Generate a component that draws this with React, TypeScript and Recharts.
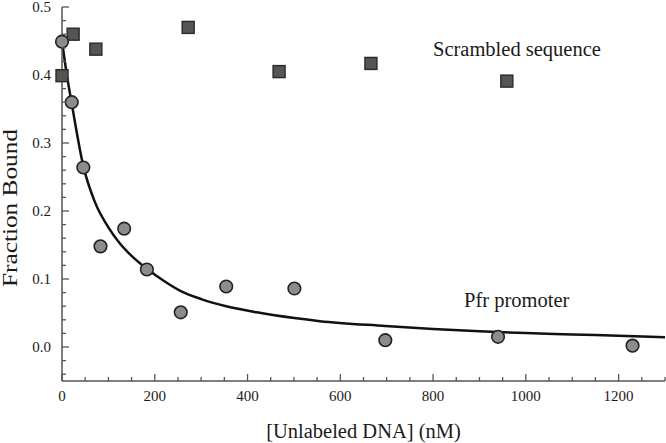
import React from 'react';
import { ComposedChart, Line, Scatter, XAxis, YAxis } from 'recharts';

// Pfr promoter competitor (circles)
const promoterConc = [0, 21, 46, 83, 134, 183, 256, 354, 501, 697, 940, 1230];
const promoterBound = [0.449, 0.36, 0.264, 0.148, 0.174, 0.114, 0.051, 0.089, 0.086, 0.01, 0.015, 0.002];

// scrambled sequence competitor (squares)
const scrambledConc = [0, 24, 73, 272, 468, 666, 959];
const scrambledBound = [0.399, 0.46, 0.438, 0.47, 0.405, 0.417, 0.391];

// fitted curve
const fitConc = [0, 10, 21, 46, 71, 100, 124, 150, 183, 220, 254, 300, 354, 420, 501, 556, 697, 800, 900, 1000, 1100, 1200, 1300];
const fitBound = [0.45, 0.402, 0.358, 0.266, 0.213, 0.176, 0.153, 0.134, 0.115, 0.097, 0.083, 0.0705, 0.06, 0.051, 0.0425, 0.038, 0.031, 0.0265, 0.023, 0.0205, 0.0185, 0.0165, 0.0145];

const xTicks = [0, 50, 100, 150, 200, 250, 300, 350, 400, 450, 500, 550, 600, 650, 700, 750, 800, 850, 900, 950, 1000, 1050, 1100, 1150, 1200, 1250, 1300];
const xMajorTicks = [0, 200, 400, 600, 800, 1000, 1200];
const yTicks = [-0.04, -0.02, 0, 0.02, 0.04, 0.06, 0.08, 0.1, 0.12, 0.14, 0.16, 0.18, 0.2, 0.22, 0.24, 0.26, 0.28, 0.3, 0.32, 0.34, 0.36, 0.38, 0.4, 0.42, 0.44, 0.46, 0.48, 0.5];
const yMajorTicks = [0, 0.1, 0.2, 0.3, 0.4, 0.5];

const promoterData = promoterConc.map((x, i) => ({ x, y: promoterBound[i] }));
const scrambledData = scrambledConc.map((x, i) => ({ x, y: scrambledBound[i] }));
const fitData = fitConc.map((x, i) => ({ x, y: fitBound[i] }));

const FONT = 'Liberation Serif';
const AXIS = '#555';
const TEXT = '#1a1a1a';

const isMajor = (v: number, list: number[]) => list.some((m) => Math.abs(m - v) < 1e-9);

const XTick = (props: any) => {
  const { x, y, payload } = props;
  const major = isMajor(payload.value, xMajorTicks);
  return (
    <g>
      <line x1={x} y1={y} x2={x} y2={y - (major ? 7 : 4)} stroke={AXIS} strokeWidth={1.3} />
      {major && (
        <text x={x} y={y + 20} textAnchor="middle" fontFamily={FONT} fontSize={15} fill={TEXT}>
          {payload.value}
        </text>
      )}
    </g>
  );
};

const YTick = (props: any) => {
  const { x, y, payload } = props;
  const major = isMajor(payload.value, yMajorTicks);
  return (
    <g>
      <line x1={x} y1={y} x2={x + (major ? 7 : 4)} y2={y} stroke={AXIS} strokeWidth={1.3} />
      {major && (
        <text x={x - 11} y={y + 5} textAnchor="end" fontFamily={FONT} fontSize={15} fill={TEXT}>
          {payload.value.toFixed(1)}
        </text>
      )}
    </g>
  );
};

const Circle = (p: any) => (
  <circle cx={p.cx} cy={p.cy} r={6.3} fill="#8c8c8c" stroke="#222" strokeWidth={1.6} />
);

const Square = (p: any) => (
  <rect x={p.cx - 6} y={p.cy - 6} width={12} height={12} fill="#555" stroke="#2a2a2a" strokeWidth={1.4} />
);

export default function App() {
  return (
    <div style={{ position: 'absolute', left: 0, top: 0, background: '#fff' }}>
      <ComposedChart width={666} height={443} margin={{ top: 7, right: 1, bottom: 2, left: 0 }}>
        <XAxis
          type="number"
          dataKey="x"
          domain={[0, 1300]}
          ticks={xTicks}
          interval={0}
          tick={<XTick />}
          tickLine={false}
          tickSize={0}
          tickMargin={0}
          height={60}
          axisLine={{ stroke: AXIS, strokeWidth: 1.5 }}
        />
        <YAxis
          type="number"
          dataKey="y"
          domain={[-0.05, 0.5]}
          ticks={yTicks}
          interval={0}
          tick={<YTick />}
          tickLine={false}
          tickSize={0}
          tickMargin={0}
          width={62}
          axisLine={{ stroke: AXIS, strokeWidth: 1.5 }}
        />
        <Scatter data={scrambledData} dataKey="y" shape={<Square />} isAnimationActive={false} />
        <Line
          data={fitData}
          dataKey="y"
          type="monotone"
          stroke="#111"
          strokeWidth={2.5}
          dot={false}
          activeDot={false}
          isAnimationActive={false}
        />
        <Scatter data={promoterData} dataKey="y" shape={<Circle />} isAnimationActive={false} />
        <text x={433} y={56} fontFamily={FONT} fontSize={20.5} fill={TEXT}>
          Scrambled sequence
        </text>
        <text x={464} y={307} fontFamily={FONT} fontSize={20.5} fill={TEXT}>
          Pfr promoter
        </text>
        <text x={363.5} y={438} textAnchor="middle" fontFamily={FONT} fontSize={20.5} fill={TEXT}>
          [Unlabeled DNA] (nM)
        </text>
        <text
          x={16.5}
          y={208}
          transform="rotate(-90 16.5 208)"
          textAnchor="middle"
          fontFamily={FONT}
          fontSize={20.5}
          textLength={158}
          lengthAdjust="spacingAndGlyphs"
          fill={TEXT}
        >
          Fraction Bound
        </text>
      </ComposedChart>
    </div>
  );
}
